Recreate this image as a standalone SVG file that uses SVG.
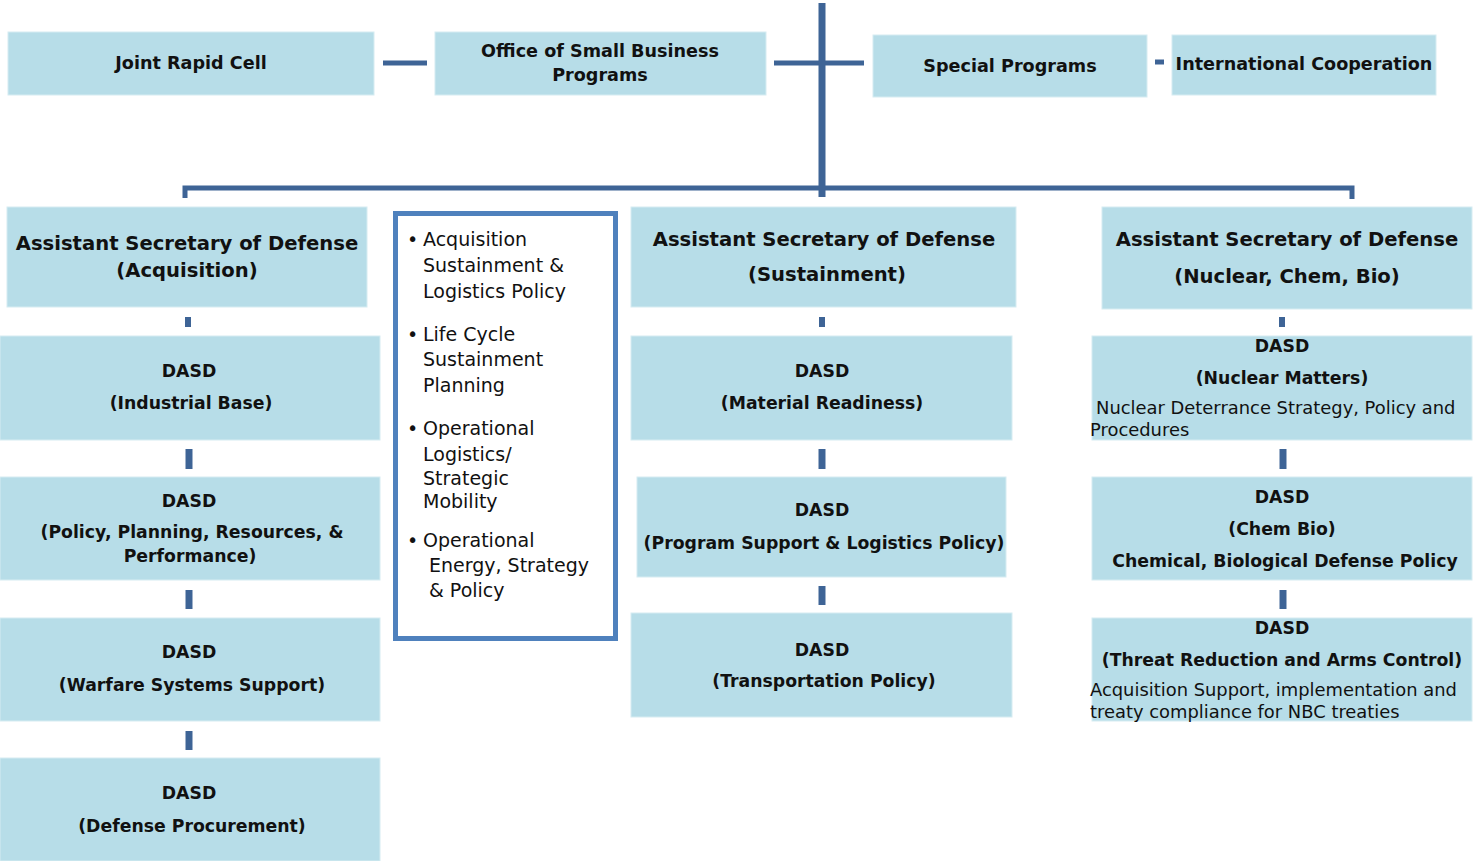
<svg xmlns="http://www.w3.org/2000/svg" width="1474" height="861" viewBox="0 0 1474 861">
<style>
.box{fill:#B7DDE8;stroke:#D6ECF2;stroke-width:1}
.t{font-family:"DejaVu Sans","Liberation Sans",sans-serif;fill:#111;text-anchor:middle}
.s{text-anchor:start}
.h{font-weight:bold;font-size:17.6px}
.b{font-weight:bold;font-size:19.6px}
.d{font-weight:bold;font-size:17.3px}
.n{font-size:17.9px}
.l{font-family:"DejaVu Sans","Liberation Sans",sans-serif;fill:#111;font-size:19px}
.c{stroke:#3E6496;fill:none;stroke-linecap:butt}
</style>
<rect width="1474" height="861" fill="#fff"/>
<g id="connectors">
<line class="c" x1="822" y1="3" x2="822" y2="197" stroke-width="7"/>
<line class="c" x1="383" y1="63" x2="427" y2="63" stroke-width="5"/>
<line class="c" x1="774" y1="63" x2="864" y2="63" stroke-width="5"/>
<line class="c" x1="1155" y1="62" x2="1164" y2="62" stroke-width="5"/>
<polyline class="c" points="185,198 185,188 1352,188 1352,199" stroke-width="5"/>
<line class="c" x1="188" y1="317" x2="188" y2="327" stroke-width="6"/>
<line class="c" x1="189" y1="449" x2="189" y2="469" stroke-width="7"/>
<line class="c" x1="189" y1="590" x2="189" y2="609" stroke-width="7"/>
<line class="c" x1="189" y1="731" x2="189" y2="750" stroke-width="7"/>
<line class="c" x1="822" y1="317" x2="822" y2="327" stroke-width="6"/>
<line class="c" x1="822" y1="449" x2="822" y2="469" stroke-width="7"/>
<line class="c" x1="822" y1="586" x2="822" y2="605" stroke-width="7"/>
<line class="c" x1="1282" y1="317" x2="1282" y2="327" stroke-width="6"/>
<line class="c" x1="1283" y1="449" x2="1283" y2="469" stroke-width="7"/>
<line class="c" x1="1283" y1="590" x2="1283" y2="609" stroke-width="7"/>
</g>
<g id="joint-rapid-cell">
<rect class="box" x="8" y="32" width="366" height="63"/>
<text class="t h" x="191" y="69">Joint Rapid Cell</text>
</g>
<g id="office-small-business">
<rect class="box" x="435" y="32" width="331" height="63"/>
<text class="t h" x="600" y="57">Office of Small Business</text>
<text class="t h" x="600" y="81">Programs</text>
</g>
<g id="special-programs">
<rect class="box" x="873" y="35" width="274" height="62"/>
<text class="t h" x="1010" y="72">Special Programs</text>
</g>
<g id="international-cooperation">
<rect class="box" x="1172" y="35" width="264" height="60"/>
<text class="t h" x="1304" y="70">International Cooperation</text>
</g>
<g id="asd-acquisition">
<rect class="box" x="7" y="207" width="360" height="100"/>
<text class="t b" x="187" y="250">Assistant Secretary of Defense</text>
<text class="t b" x="187" y="277">(Acquisition)</text>
</g>
<g id="asd-list">
<rect x="395.5" y="213.5" width="220" height="425" fill="#fff" stroke="#4F81BD" stroke-width="5"/>
<text class="l" x="407" y="246">•</text>
<text class="l" x="423" y="246">Acquisition</text>
<text class="l" x="423" y="272">Sustainment &amp;</text>
<text class="l" x="423" y="298">Logistics Policy</text>
<text class="l" x="407" y="341">•</text>
<text class="l" x="423" y="341">Life Cycle</text>
<text class="l" x="423" y="366">Sustainment</text>
<text class="l" x="423" y="392">Planning</text>
<text class="l" x="407" y="435">•</text>
<text class="l" x="423" y="435">Operational</text>
<text class="l" x="423" y="461">Logistics/</text>
<text class="l" x="423" y="485">Strategic</text>
<text class="l" x="423" y="508">Mobility</text>
<text class="l" x="407" y="547">•</text>
<text class="l" x="423" y="547">Operational</text>
<text class="l" x="429" y="572">Energy, Strategy</text>
<text class="l" x="429" y="597">&amp; Policy</text>
</g>
<g id="asd-sustainment">
<rect class="box" x="631" y="207" width="385" height="100"/>
<text class="t b" x="824" y="246">Assistant Secretary of Defense</text>
<text class="t b" x="827" y="281">(Sustainment)</text>
</g>
<g id="asd-ncb">
<rect class="box" x="1102" y="207" width="370" height="102"/>
<text class="t b" x="1287" y="246">Assistant Secretary of Defense</text>
<text class="t b" x="1287" y="283">(Nuclear, Chem, Bio)</text>
</g>
<g id="dasd-industrial-base">
<rect class="box" x="0" y="336" width="380" height="104"/>
<text class="t d" x="189" y="377">DASD</text>
<text class="t d" x="191" y="409">(Industrial Base)</text>
</g>
<g id="dasd-pprp">
<rect class="box" x="0" y="477" width="380" height="103"/>
<text class="t d" x="189" y="507">DASD</text>
<text class="t d" x="192" y="538">(Policy, Planning, Resources, &amp;</text>
<text class="t d" x="190" y="562">Performance)</text>
</g>
<g id="dasd-warfare">
<rect class="box" x="0" y="618" width="380" height="103"/>
<text class="t d" x="189" y="658">DASD</text>
<text class="t d" x="192" y="691">(Warfare Systems Support)</text>
</g>
<g id="dasd-procurement">
<rect class="box" x="0" y="758" width="380" height="103"/>
<text class="t d" x="189" y="799">DASD</text>
<text class="t d" x="192" y="832">(Defense Procurement)</text>
</g>
<g id="dasd-material-readiness">
<rect class="box" x="631" y="336" width="381" height="104"/>
<text class="t d" x="822" y="377">DASD</text>
<text class="t d" x="822" y="409">(Material Readiness)</text>
</g>
<g id="dasd-program-support">
<rect class="box" x="637" y="477" width="369" height="100"/>
<text class="t d" x="822" y="516">DASD</text>
<text class="t d" x="824" y="549">(Program Support &amp; Logistics Policy)</text>
</g>
<g id="dasd-transportation">
<rect class="box" x="631" y="613" width="381" height="104"/>
<text class="t d" x="822" y="656">DASD</text>
<text class="t d" x="824" y="687">(Transportation Policy)</text>
</g>
<g id="dasd-nuclear-matters">
<rect class="box" x="1092" y="336" width="380" height="104"/>
<text class="t d" x="1282" y="352">DASD</text>
<text class="t d" x="1282" y="384">(Nuclear Matters)</text>
<text class="t n s" x="1096" y="414">Nuclear Deterrance Strategy, Policy and</text>
<text class="t n s" x="1090" y="436">Procedures</text>
</g>
<g id="dasd-chem-bio">
<rect class="box" x="1092" y="477" width="380" height="103"/>
<text class="t d" x="1282" y="503">DASD</text>
<text class="t d" x="1282" y="535">(Chem Bio)</text>
<text class="t d" x="1285" y="567">Chemical, Biological Defense Policy</text>
</g>
<g id="dasd-threat-reduction">
<rect class="box" x="1092" y="618" width="380" height="103"/>
<text class="t d" x="1282" y="634">DASD</text>
<text class="t d" x="1282" y="666">(Threat Reduction and Arms Control)</text>
<text class="t n s" x="1090" y="696">Acquisition Support, implementation and</text>
<text class="t n s" x="1090" y="718">treaty compliance for NBC treaties</text>
</g>
</svg>
